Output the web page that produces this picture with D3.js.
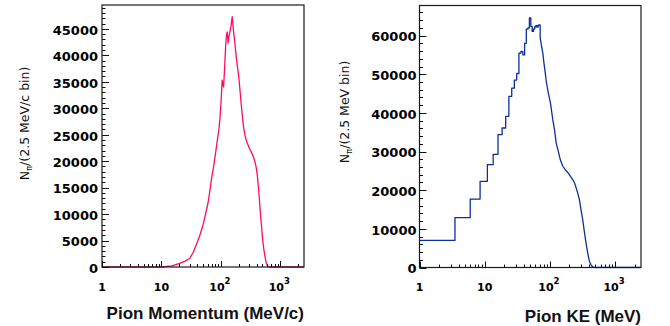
<!DOCTYPE html>
<html>
<head>
<meta charset="utf-8">
<script src="https://cdn.jsdelivr.net/npm/d3@7"></script>
<style>
  html, body { margin: 0; padding: 0; background: #ffffff; }
  svg { display: block; }
</style>
</head>
<body>
<script>
// ---------------- DATA ----------------
// Left panel: pion momentum spectrum (MeV/c) vs counts per 2.5 MeV/c bin
const momentumX = [1, 10, 15, 20.3, 25, 29.8, 34, 38.6, 44, 49.9, 55, 60.5, 65, 68.9, 74, 78.3, 82, 85.7, 89, 92.5,
  97, 101, 105, 108, 111, 116, 120, 124, 128, 132, 136, 140, 148, 155, 160, 165, 173, 181, 190, 200,
  210, 219, 230, 240, 253, 266, 283, 302, 322, 344, 368, 391, 410, 427, 445, 462, 485, 505, 530, 553,
  575, 598, 625, 655, 2500];
const momentumCounts = [0, 0, 200, 700, 1100, 1600, 2700, 4200, 5900, 7900, 9900, 12000, 14300, 16400, 18400, 20200, 21800, 23400, 24700, 25900,
  28500, 31500, 35300, 34500, 34000, 38000, 41600, 43800, 44400, 42300, 43500, 44100, 45500, 47300, 45500, 44100, 42000, 39700, 37800, 35900,
  33300, 30900, 28500, 26500, 25000, 24000, 23200, 22400, 21800, 21100, 20200, 18900, 17300, 15200, 12600, 10100, 7400, 5100, 3200, 1900,
  900, 400, 100, 0, 0];

// Right panel: pion kinetic energy (MeV) vs counts per 2.5 MeV bin
// low-energy bins (visible as steps on the log axis)
const keBinEdges = [1, 3.5, 6, 8.5, 11, 13.5, 16, 18.5, 21, 23.5, 26, 28.5, 31, 33.5, 36, 38.5, 41, 43.5, 46, 48.5,
  51, 53.5, 56, 58.5, 61, 63.5, 66, 68.5, 71];
const keBinCounts = [7000, 12900, 17700, 22300, 26600, 29300, 34400, 36100, 39100, 44300, 46400, 48500, 50200, 55500, 55900, 55000, 58000, 61700, 62000,
  64600, 62400, 61100, 61700, 62300, 62600, 62200, 62700, 62800];
// higher-energy part (bins narrower than a pixel)
const keCurveX = [71, 75, 78, 81, 84, 88, 95, 102, 111, 118, 125, 135, 145, 158, 172, 188, 205, 225, 240, 253,
  268, 284, 300, 319, 338, 359, 380, 404, 430, 453, 480, 2500];
const keCurveCounts = [59400, 57000, 55500, 53000, 51000, 48200, 45000, 42600, 38200, 35600, 32200, 30000, 27800, 26200, 25300, 24600, 23700, 22700, 21800, 20600,
  19200, 17500, 15000, 12400, 9300, 6300, 3800, 1600, 600, 200, 0, 0];

// tick labels
const leftYTickValues = [0, 5000, 10000, 15000, 20000, 25000, 30000, 35000, 40000, 45000];
const rightYTickValues = [0, 10000, 20000, 30000, 40000, 50000, 60000];
const xTickValues = [1, 10, 100, 1000];
const xTickBase = ["1", "10", "10", "10"];
const xTickExp = ["", "", "2", "3"];

// ---------------- DRAW ----------------
const W = 670, H = 326;
const svg = d3.select("body").append("svg").attr("width", W).attr("height", H);

const labelFont = "'DejaVu Sans', sans-serif";
const titleFont = "'Liberation Sans', Arial, sans-serif";

function drawPanel(cfg) {
  const x = d3.scaleLog().domain([1, 2500]).range([cfg.x0, cfg.x1]);
  const y = d3.scaleLinear().domain([0, cfg.ymax]).range([cfg.y0, cfg.y1]);
  const g = svg.append("g");

  // clip
  const clipId = "clip" + cfg.id;
  svg.append("clipPath").attr("id", clipId).append("rect")
    .attr("x", cfg.x0).attr("y", cfg.y1).attr("width", cfg.x1 - cfg.x0).attr("height", cfg.y0 - cfg.y1 + 1);

  // curve
  g.append("path")
    .datum(cfg.points)
    .attr("clip-path", `url(#${clipId})`)
    .attr("fill", "none")
    .attr("stroke", cfg.color)
    .attr("stroke-width", 1.3)
    .attr("stroke-linejoin", "round")
    .attr("d", d3.line().x(d => x(d[0])).y(d => y(d[1])));

  // frame
  g.append("rect")
    .attr("x", cfg.x0).attr("y", cfg.y1)
    .attr("width", cfg.x1 - cfg.x0).attr("height", cfg.y0 - cfg.y1)
    .attr("fill", "none").attr("stroke", "#1a1a1a").attr("stroke-width", 1.2);

  // y ticks (major + minor)
  const yMinor = d3.range(0, cfg.ymax, cfg.yMinorStep);
  g.selectAll(null).data(yMinor).enter().append("line")
    .attr("x1", cfg.x0).attr("x2", d => cfg.x0 + (cfg.yTicks.includes(d) ? 7 : 3.5))
    .attr("y1", d => Math.round(y(d)) + 0.5).attr("y2", d => Math.round(y(d)) + 0.5)
    .attr("stroke", "#111").attr("stroke-width", 1);

  g.selectAll(null).data(cfg.yTicks).enter().append("text")
    .attr("x", cfg.x0 - cfg.yLabelGap).attr("y", d => y(d))
    .attr("dy", "0.45em")
    .attr("text-anchor", "end")
    .attr("font-family", labelFont).attr("font-weight", "bold").attr("font-size", 13)
    .attr("fill", "#000")
    .text(d => d);

  // x ticks (log)
  const xMinor = [];
  [1, 10, 100, 1000].forEach(dec => {
    for (let k = 1; k <= 9; k++) { const v = dec * k; if (v <= 2500) xMinor.push(v); }
  });
  g.selectAll(null).data(xMinor).enter().append("line")
    .attr("x1", d => Math.round(x(d)) + 0.5).attr("x2", d => Math.round(x(d)) + 0.5)
    .attr("y1", cfg.y0).attr("y2", d => cfg.y0 - (xTickValues.includes(d) ? 6 : 3))
    .attr("stroke", "#111").attr("stroke-width", 1);

  const xl = g.selectAll(null).data(xTickValues).enter().append("text")
    .attr("x", (d, i) => x(d) + (xTickExp[i] ? -1 : 0))
    .attr("y", cfg.xLabelBaseline)
    .attr("text-anchor", "middle")
    .attr("font-family", labelFont).attr("font-weight", "bold").attr("font-size", 11)
    .attr("fill", "#000");
  xl.append("tspan").text((d, i) => xTickBase[i]);
  xl.append("tspan").attr("font-size", 8.5).attr("dy", "-7")
    .text((d, i) => xTickExp[i]);

  // x title
  g.append("text")
    .attr("x", cfg.x1).attr("y", cfg.xTitleBaseline)
    .attr("text-anchor", "end")
    .attr("font-family", titleFont).attr("font-weight", "bold").attr("font-size", 17)
    .attr("fill", "#111")
    .text(cfg.xTitle);

  // y title (rotated)
  const yt = g.append("text")
    .attr("transform", `translate(${cfg.yTitleX},${cfg.yTitleY}) rotate(-90)`)
    .attr("text-anchor", "middle")
    .attr("font-family", labelFont).attr("font-size", 12.5)
    .attr("fill", "#111");
  yt.append("tspan").text("N");
  yt.append("tspan").attr("font-size", 8.5).attr("dy", 3).text("π");
  yt.append("tspan").attr("dy", -3).text(cfg.yTitleRest);
}

// left panel
drawPanel({
  id: "L",
  x0: 102, x1: 304, y0: 267, y1: 5,
  ymax: 49500, yTicks: leftYTickValues, yMinorStep: 1000, yLabelGap: 4,
  color: "#ff0a66",
  points: momentumX.map((v, i) => [v, momentumCounts[i]]),
  xLabelBaseline: 290.5, xTitleBaseline: 319,
  xTitle: "Pion Momentum (MeV/c)",
  yTitleX: 29, yTitleY: 123.5, yTitleRest: "/(2.5 MeV/c bin)"
});

// right panel
const kePoints = [];
keBinCounts.forEach((c, i) => { kePoints.push([keBinEdges[i], c]); kePoints.push([keBinEdges[i + 1], c]); });
keCurveX.forEach((v, i) => kePoints.push([v, keCurveCounts[i]]));

drawPanel({
  id: "R",
  x0: 419.5, x1: 641, y0: 267.5, y1: 5.5,
  ymax: 67800, yTicks: rightYTickValues, yMinorStep: 2000, yLabelGap: 3,
  color: "#0a2f9e",
  points: kePoints,
  xLabelBaseline: 291, xTitleBaseline: 322,
  xTitle: "Pion KE (MeV)",
  yTitleX: 349, yTitleY: 112, yTitleRest: "/(2.5 MeV bin)"
});
</script>
</body>
</html>
